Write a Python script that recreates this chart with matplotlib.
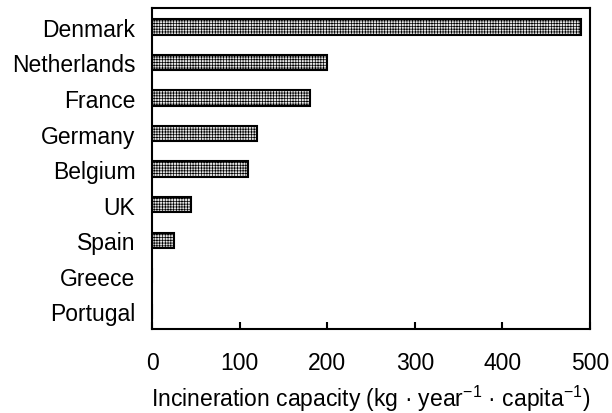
import matplotlib
matplotlib.use("Agg")
import matplotlib.pyplot as plt

# data
countries = ["Denmark", "Netherlands", "France", "Germany", "Belgium",
             "UK", "Spain", "Greece", "Portugal"]
capacity = [490, 200, 180, 120, 110, 45, 25, 0, 0]
xticks = [0, 100, 200, 300, 400, 500]

plt.rcParams["font.family"] = ["Liberation Sans", "DejaVu Sans"]
plt.rcParams["mathtext.fontset"] = "custom"
plt.rcParams["mathtext.rm"] = "Liberation Sans"
plt.rcParams["mathtext.it"] = "Liberation Sans"
plt.rcParams["hatch.color"] = "#a8a8a8"
plt.rcParams["hatch.linewidth"] = 0.5

fig = plt.figure(figsize=(6.12, 4.14), dpi=100)
ax = fig.add_axes([0.2484, 0.2029, 0.7156, 0.7751])

ypos = list(range(len(countries)))
ax.barh(ypos, capacity, height=0.43, color="#e4e4e4", edgecolor="black",
        linewidth=1.5, hatch="++++++")

ax.set_xlim(0, 500)
ax.set_ylim(8.5, -0.53)
ax.set_xticks(xticks)
ax.set_yticks(ypos)
ax.set_yticklabels(countries)

ax.tick_params(axis="x", direction="in", length=5, width=1.5, pad=16,
               labelsize=16.5)
ax.tick_params(axis="y", length=0, pad=12, labelsize=16.5)
for s in ax.spines.values():
    s.set_linewidth(1.5)

ax.set_xlabel("Incineration capacity (kg · year$^{-1}$ · capita$^{-1}$)",
              fontsize=16.5, labelpad=6)

fig.savefig("out.png", dpi=100)
